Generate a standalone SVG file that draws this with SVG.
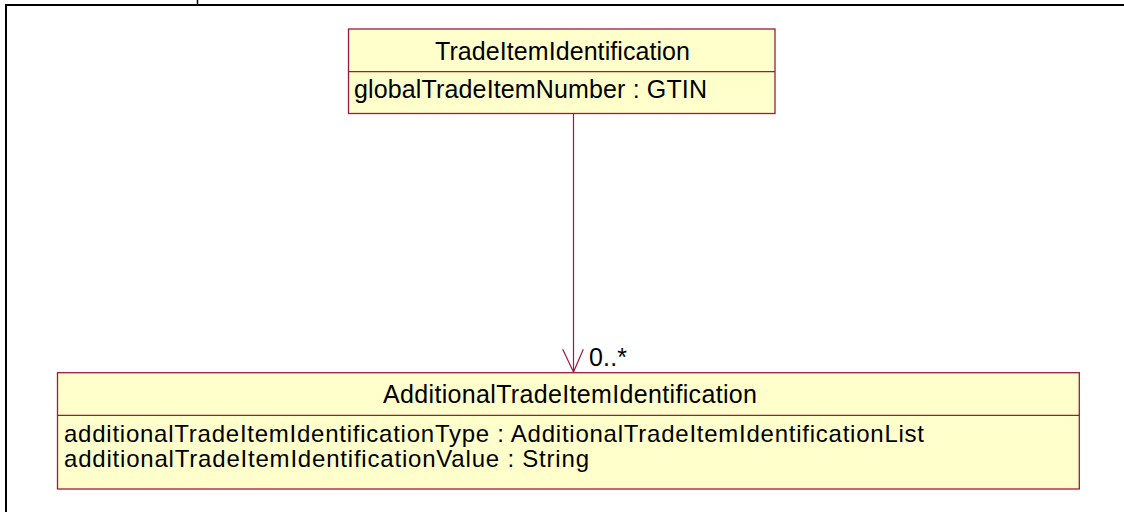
<svg xmlns="http://www.w3.org/2000/svg" width="1124" height="512" viewBox="0 0 1124 512">
<style>
.box{fill:#ffffcc;stroke:#a0183f;stroke-width:1.3}
.div{stroke:#a0183f;stroke-width:1.3}
.t{font-family:"Liberation Sans",Arial,sans-serif;font-size:25px;fill:#000}
.r{font-size:24px}
.conn{stroke:#a0183f;stroke-width:1.2;fill:none}
</style>
<rect width="1124" height="512" fill="#fff"/>
<g id="frame">
<path d="M6,520 V5 H1130" fill="none" stroke="#000" stroke-width="2"/>
<line x1="197.5" y1="0" x2="197.5" y2="5" stroke="#000" stroke-width="1.5"/>
</g>
<g id="connectors">
<line class="conn" x1="573.5" y1="113" x2="573.5" y2="372"/>
<path class="conn" d="M562.7,349.3 L573.5,372 L583.3,349.3"/>
<text class="t" x="589" y="366" textLength="38" lengthAdjust="spacing">0..*</text>
</g>
<g id="TradeItemIdentification">
<rect class="box" x="348.5" y="29" width="426.5" height="84.5"/>
<line class="div" x1="348.5" y1="71.7" x2="775" y2="71.7"/>
<text class="t" x="435" y="60" textLength="255" lengthAdjust="spacing">TradeItemIdentification</text>
<text class="t" x="354" y="98" textLength="353" lengthAdjust="spacing">globalTradeItemNumber : GTIN</text>
</g>
<g id="AdditionalTradeItemIdentification">
<rect class="box" x="57.5" y="372.7" width="1021.8" height="116.3"/>
<line class="div" x1="57.5" y1="415.3" x2="1079.3" y2="415.3"/>
<text class="t" x="383" y="403" textLength="374" lengthAdjust="spacing">AdditionalTradeItemIdentification</text>
<text class="t r" x="64" y="442" textLength="860" lengthAdjust="spacing">additionalTradeItemIdentificationType : AdditionalTradeItemIdentificationList</text>
<text class="t r" x="64" y="466.5" textLength="525" lengthAdjust="spacing">additionalTradeItemIdentificationValue : String</text>
</g>
</svg>
